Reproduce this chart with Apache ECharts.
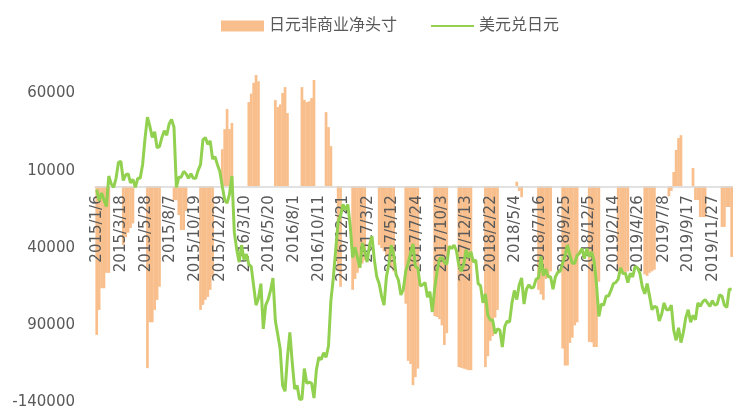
<!DOCTYPE html>
<html>
<head>
<meta charset="utf-8">
<script src="https://cdn.jsdelivr.net/npm/echarts@6/dist/echarts.min.js"></script>
<style>
html,body{margin:0;padding:0;background:#fff;}
#chart{width:740px;height:414px;}
</style>
</head>
<body>
<div id="chart"></div>
<script>
// Series names (legend)
const seriesNames = ['日元非商业净头寸', '美元兑日元'];

// Weekly sampling: first week
const firstWeek = [2015, 1, 6];

// X-axis tick labels (dates shown on the axis)
const xLabels = ['2015/1/6','2015/3/18','2015/5/28','2015/8/7','2015/10/19','2015/12/29',
  '2016/3/10','2016/5/20','2016/8/1','2016/10/11','2016/12/21','2017/3/2','2017/5/12',
  '2017/7/24','2017/10/3','2017/12/13','2018/2/22','2018/5/4','2018/7/16','2018/9/25',
  '2018/12/5','2019/2/14','2019/4/26','2019/7/8','2019/9/17','2019/11/27'];

// Y-axis tick values and their printed labels
const yTickValues = [-140000, -90000, -40000, 10000, 60000];
const yTickLabels = ['-140000', '90000', '40000', '10000', '60000'];

// Bars: JPY non-commercial net position (weekly, null = no bar drawn)
const netPos = [
  -96200,-80000,-66000,-66000,-56000,-56000,null,null,null,null,
  null,-38000,-33000,-30000,-27000,-24000,null,null,null,null,
  null,-117700,-88000,-88000,-80000,-73500,-65000,null,null,null,
  null,null,-9000,-9000,-18600,-28300,-28300,-16000,null,null,
  null,null,null,-80000,-76700,-73500,-71600,-67000,-58800,null,
  null,null,24000,37000,50000,37000,41000,null,null,null,
  null,null,null,54500,60000,67000,72000,68000,null,null,
  null,null,null,null,55800,51300,53000,60400,64200,47400,
  null,null,null,null,null,64200,56000,54500,55000,57100,
  68800,null,null,null,null,48000,38300,26000,null,null,
  -55000,-65000,null,null,null,null,-67000,-60000,-56000,-52000,
  -50000,-48000,null,null,null,null,null,-38000,-40000,-42000,
  -45000,-47000,-52000,-55000,null,null,null,null,-76000,-113000,
  -115000,-128700,-123500,-118000,null,null,null,null,null,null,
  -84000,-84600,-86000,-90000,-102700,-95000,null,null,null,null,
  -117000,-117500,-118000,-118500,-119000,-119000,null,null,null,null,
  null,-117000,-110000,-100000,-97000,-85000,-80000,null,null,null,
  null,null,null,null,3000,-3000,-7000,null,null,null,
  null,null,null,-67000,-70000,-73500,-60000,-58700,-55000,null,
  null,null,null,-105000,-116000,-116000,-101400,-98000,-90000,-88000,
  null,null,null,null,-100700,-101000,-104000,-104000,-61800,null,
  null,null,null,null,null,null,-55000,-56000,-57000,-56000,
  -55000,null,null,null,null,null,null,-57000,-58000,-56000,
  -55000,-54000,null,null,null,null,null,-6500,-3000,9250,
  23500,31200,33100,null,null,null,null,11800,-8900,-8900,
  -19900,-19900,-19900,null,null,null,null,null,null,-26300,
  -26300,-13400,-13400,-45700
];

// Line: USD/JPY (weekly)
const usdJpy = [
  // 2015
  118.8,117.8,118.5,117.9,117.3,120.0,119.3,119.0,119.8,121.2,
  121.3,119.6,120.1,120.2,119.4,119.7,119.0,119.8,119.8,121.0,
  123.3,125.2,124.4,123.4,123.9,122.5,122.6,123.4,124.0,123.6,
  124.6,125.0,124.3,119.0,119.9,119.9,120.4,120.2,119.8,120.2,
  119.8,119.8,120.5,121.0,123.2,123.4,122.8,123.1,121.5,121.7,
  121.0,120.4,
  // 2016
  119.1,117.9,117.6,118.4,120.0,115.0,113.5,112.4,113.9,112.6,
  113.1,112.2,112.0,110.3,108.6,109.2,110.5,106.5,108.6,109.1,
  109.9,111.0,107.2,106.0,104.7,101.5,101.0,104.0,106.2,103.5,
  101.2,101.5,100.3,100.3,103.0,101.7,101.8,101.7,100.4,102.9,
  104.0,103.8,104.4,104.0,105.0,109.0,111.0,113.5,116.0,116.5,
  117.5,117.0,
  // 2017
  117.5,115.6,112.8,113.7,112.8,111.9,114.1,113.4,112.4,113.9,
  114.7,112.6,111.1,110.5,109.4,108.6,111.1,112.2,113.9,113.1,
  111.3,110.8,109.5,110.0,111.6,112.3,113.2,114.0,112.0,111.9,
  110.3,110.4,110.6,109.3,109.8,108.0,110.1,111.6,112.7,112.8,
  112.4,112.2,113.8,113.6,113.9,113.4,112.1,111.6,112.2,113.5,
  112.8,113.3,
  // 2018
  112.4,112.6,110.5,110.3,108.8,109.6,107.7,107.3,107.3,106.1,
  106.5,106.4,104.9,106.7,107.2,107.1,108.8,109.9,109.1,110.4,
  111.0,108.7,110.0,110.4,110.1,110.2,110.9,111.0,112.9,111.2,
  111.8,111.1,111.1,110.0,111.1,111.5,111.6,112.3,113.0,113.9,
  113.0,112.3,112.3,113.0,113.2,113.6,112.7,113.6,112.9,113.3,
  112.5,110.5,
  // 2019 - Jan 2020
  107.6,108.7,108.6,109.4,109.4,109.9,110.5,110.6,110.9,111.9,
  111.4,111.4,110.6,111.4,111.1,112.0,111.9,111.4,110.2,109.6,
  110.5,109.4,108.2,108.5,108.4,107.2,107.8,108.8,108.2,108.2,
  108.6,106.4,105.5,106.6,105.3,106.2,107.5,108.2,107.1,107.7,
  107.3,108.8,108.5,108.9,109.1,108.8,108.5,109.0,108.6,108.7,
  109.5,109.4,108.6,108.4,110.0,110.0
];

// ---- build ----
function ts(y, m, d) { return new Date(y, m - 1, d).getTime(); }
function parseLabel(s) { const p = s.split('/').map(Number); return ts(p[0], p[1], p[2]); }
const weekTs = usdJpy.map((_, k) => ts(firstWeek[0], firstWeek[1], firstWeek[2] + 7 * k));

const barData = [];
netPos.forEach((v, k) => { if (v !== null) barData.push([weekTs[k], v]); });
const lineData = usdJpy.map((v, k) => [weekTs[k], v]);
const xTickTs = xLabels.map(parseLabel);

const Y_MIN = -140000, Y_MAX = 80000;
const GRID = { left: 95, right: 8, top: 62.7, bottom: 11.4 };
const plotH = 414 - GRID.top - GRID.bottom;
// move the category axis (line + labels) up to the zero value of the left axis
const zeroOffset = -plotH * (0 - Y_MIN) / (Y_MAX - Y_MIN);

const FONT = '"DejaVu Sans", "Noto Sans CJK SC", sans-serif';
const chart = echarts.init(document.getElementById('chart'), null, { renderer: 'canvas' });
chart.setOption({
  animation: false,
  backgroundColor: '#ffffff',
  textStyle: { fontFamily: FONT },
  legend: {
    left: 216, top: 13,
    itemWidth: 43, itemHeight: 11, itemGap: 33,
    textStyle: { fontSize: 16, color: '#595959', fontFamily: FONT },
    data: [
      { name: seriesNames[0], icon: 'rect' },
      { name: seriesNames[1], itemStyle: { opacity: 0 } }
    ]
  },
  grid: Object.assign({ containLabel: false, outerBoundsMode: 'none' }, GRID),
  xAxis: {
    type: 'value',
    min: ts(2015, 1, 1),
    max: ts(2020, 1, 22),
    z: 3,
    position: 'bottom',
    offset: zeroOffset,
    axisLine: { onZero: false, lineStyle: { color: '#D9D9D9', width: 1.5 } },
    axisTick: { show: false },
    splitLine: { show: false },
    axisLabel: {
      customValues: xTickTs,
      rotate: 90,
      margin: 9,
      fontSize: 15,
      color: '#595959',
      fontFamily: FONT,
      formatter: function (v) {
        const i = xTickTs.indexOf(v);
        if (i >= 0) return xLabels[i];
        const d = new Date(v);
        return d.getFullYear() + '/' + (d.getMonth() + 1) + '/' + d.getDate();
      }
    }
  },
  yAxis: [
    {
      type: 'value',
      min: Y_MIN, max: Y_MAX,
      axisLine: { show: false },
      axisTick: { show: false },
      splitLine: { show: false },
      axisLabel: {
        customValues: yTickValues,
        margin: 20,
        fontSize: 15,
        color: '#595959',
        fontFamily: FONT,
        formatter: function (v) {
          const i = yTickValues.indexOf(v);
          return i >= 0 ? yTickLabels[i] : String(v);
        }
      }
    },
    {
      type: 'value',
      min: 100, max: 130,
      show: false,
      splitLine: { show: false }
    }
  ],
  series: [
    {
      name: seriesNames[0],
      type: 'bar',
      yAxisIndex: 0,
      z: 2,
      barWidth: 2.7,
      itemStyle: { color: '#F8BF8D' },
      data: barData
    },
    {
      name: seriesNames[1],
      type: 'line',
      yAxisIndex: 1,
      z: 4,
      symbol: 'none',
      lineStyle: { color: '#92D050', width: 3 },
      itemStyle: { color: '#92D050' },
      data: lineData
    }
  ]
});
</script>
</body>
</html>
